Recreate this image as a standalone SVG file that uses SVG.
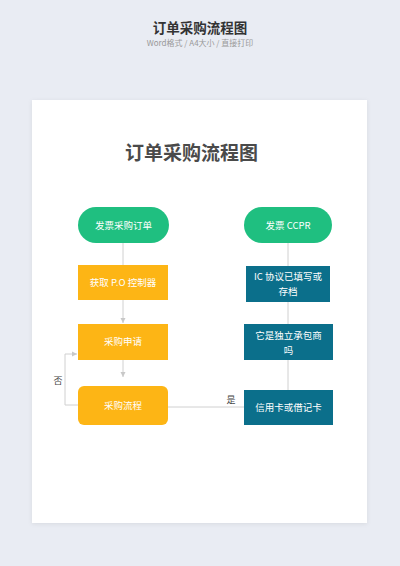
<svg xmlns="http://www.w3.org/2000/svg" width="400" height="566" viewBox="0 0 400 566">
<defs>
<style>
text{font-family:"Noto Sans CJK SC","Liberation Sans",sans-serif}
.lbl{fill:#fff;font-size:9.5px;text-anchor:middle}
.green{fill:#1fbf80}
.orange{fill:#fdb515}
.teal{fill:#0b6f8b}
.ln{stroke:#d0d0d0;stroke-width:1;fill:none}
</style>
<marker id="ah" markerWidth="6" markerHeight="6" refX="5" refY="3" orient="auto" markerUnits="userSpaceOnUse">
<path d="M0,0.5 L5,3 L0,5.5 Z" fill="#c8c8c8"/>
</marker>
<filter id="sh" x="-10%" y="-10%" width="120%" height="120%">
<feDropShadow dx="0" dy="1" stdDeviation="2" flood-color="#000" flood-opacity="0.08"/>
</filter>
</defs>
<rect width="400" height="566" fill="#e9ecf3"/>
<text x="200" y="33" font-size="13.5" font-weight="bold" fill="#333" text-anchor="middle">订单采购流程图</text>
<text x="200" y="46" font-size="8" fill="#999" text-anchor="middle">Word格式 / A4大小 / 直接打印</text>
<rect x="32" y="100" width="335" height="423" fill="#fff" filter="url(#sh)"/>
<text x="191.5" y="160" font-size="19" font-weight="bold" fill="#4a4a4a" text-anchor="middle">订单采购流程图</text>
<g id="connectors">
<line class="ln" x1="123" y1="243" x2="123" y2="265"/>
<line class="ln" x1="123" y1="300" x2="123" y2="323" marker-end="url(#ah)"/>
<line class="ln" x1="123" y1="360" x2="123" y2="377" marker-end="url(#ah)"/>
<polyline class="ln" points="78,405 65,405 65,354 77,354" marker-end="url(#ah)"/>
<line class="ln" x1="168" y1="407" x2="244" y2="407"/>
<line class="ln" x1="288" y1="243" x2="288" y2="266"/>
<line class="ln" x1="288" y1="324" x2="288" y2="302"/>
<line class="ln" x1="288" y1="390" x2="288" y2="360"/>
<text x="231" y="403" font-size="9" fill="#444" text-anchor="middle">是</text>
<text x="58" y="384" font-size="9" fill="#444" text-anchor="middle">否</text>
</g>
<g id="n1"><rect class="green" x="78" y="207" width="91" height="36" rx="18"/><text class="lbl" x="123.5" y="228.5">发票采购订单</text></g>
<g id="n2"><rect class="orange" x="78" y="265" width="90" height="35"/><text class="lbl" x="123" y="286">获取 P.O 控制器</text></g>
<g id="n3"><rect class="orange" x="78" y="324" width="90" height="36"/><text class="lbl" x="123" y="345">采购申请</text></g>
<g id="n4"><rect class="orange" x="78" y="386" width="90" height="39" rx="6"/><text class="lbl" x="123" y="409">采购流程</text></g>
<g id="n5"><rect class="green" x="244" y="207" width="88" height="36" rx="18"/><text class="lbl" x="288" y="228.5">发票 CCPR</text></g>
<g id="n6"><rect class="teal" x="246" y="266" width="84" height="36"/><text class="lbl" x="288" y="280">IC 协议已填写或</text><text class="lbl" x="288" y="295">存档</text></g>
<g id="n7"><rect class="teal" x="244" y="324" width="89" height="36"/><text class="lbl" x="288.5" y="339">它是独立承包商</text><text class="lbl" x="288.5" y="354">吗</text></g>
<g id="n8"><rect class="teal" x="244" y="390" width="89" height="35"/><text class="lbl" x="288.5" y="411">信用卡或借记卡</text></g>
</svg>
